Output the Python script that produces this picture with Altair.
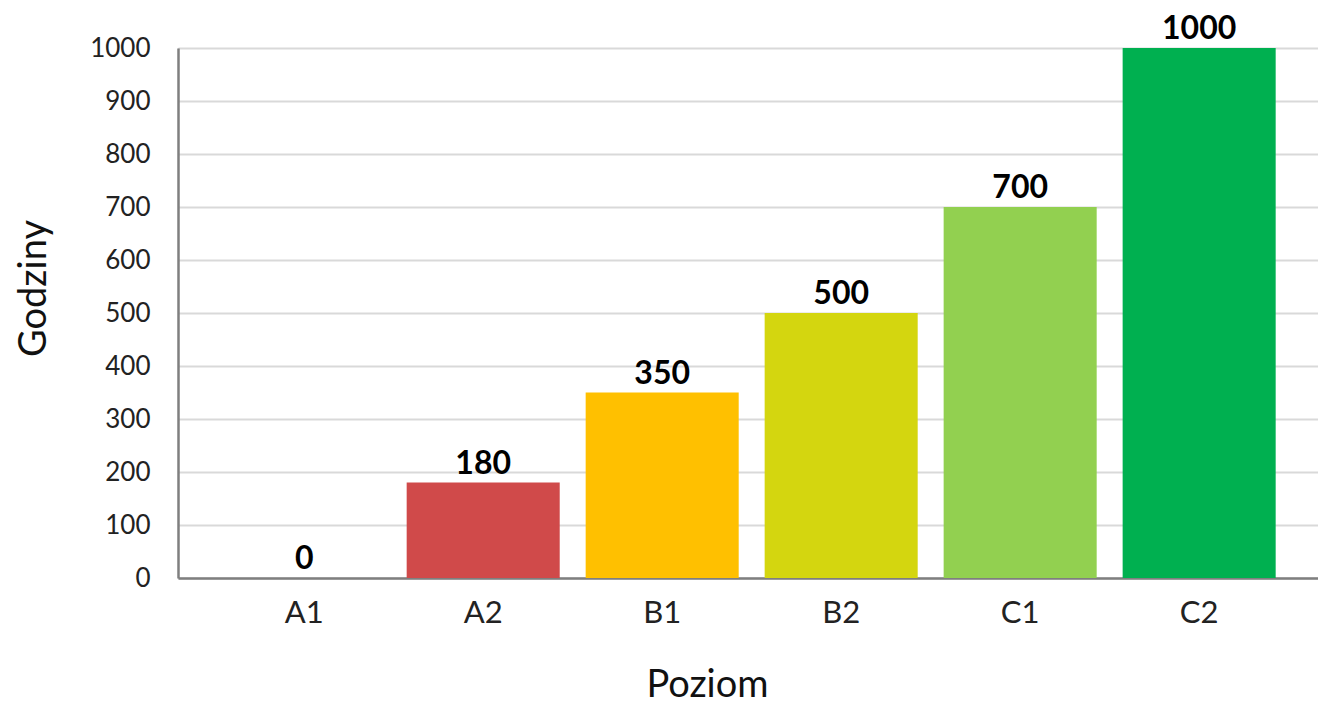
import altair as alt
import pandas as pd

levels = ["A1", "A2", "B1", "B2", "C1", "C2"]
hours = [0, 180, 350, 500, 700, 1000]
colors = ["#D04A4A", "#D04A4A", "#FFC000", "#D4D60F", "#92D050", "#00B050"]
y_ticks = list(range(0, 1001, 100))

df = pd.DataFrame({"Poziom": levels, "Godziny": hours})

FONT = "Lato"

x_enc = alt.X(
    "Poziom:N",
    sort=levels,
    scale=alt.Scale(paddingInner=0.145, paddingOuter=0.257, align=0.54),
    axis=alt.Axis(
        title="Poziom", labelAngle=0, labelFontSize=31, labelColor="#222222",
        labelPadding=20, ticks=False, domainColor="#7f7f7f", domainWidth=2.5,
        titleFontSize=38, titleFontWeight="normal", titleColor="#111111",
        titlePadding=38, titleX=529, titleAnchor="start", titleAlign="center",
        labelFont=FONT, titleFont=FONT,
    ),
)

bars = alt.Chart(df).mark_bar().encode(
    x=x_enc,
    y=alt.Y(
        "Godziny:Q",
        scale=alt.Scale(domain=[0, 1000], nice=False),
        axis=alt.Axis(
            title="Godziny", values=y_ticks, format="d", labelFontSize=26, labelColor="#222222",
            labelPadding=28, ticks=False, domainColor="#7f7f7f", domainWidth=2.5,
            gridColor="#d9d9d9", gridWidth=2,
            titleFontSize=38, titleFontWeight="normal", titleColor="#111111",
            titlePadding=36, titleY=240, titleAlign="center",
            labelFont=FONT, titleFont=FONT,
        ),
    ),
    color=alt.Color("Poziom:N", scale=alt.Scale(domain=levels, range=colors), legend=None),
)

labels = alt.Chart(df).mark_text(
    baseline="alphabetic", dy=-9, fontSize=32, fontWeight="bold", font=FONT, color="#000000"
).encode(
    x=alt.X("Poziom:N", sort=levels),
    y=alt.Y("Godziny:Q"),
    text=alt.Text("Godziny:Q", format="d"),
)

chart = alt.layer(bars, labels).properties(
    width=1140, height=530,
    autosize=alt.AutoSizeParams(type="none"),
    padding={"left": 178, "top": 48, "right": 0, "bottom": 126},
).configure_view(stroke=None).configure(background="white")

chart.save("out.html", embed_options={"renderer": "svg", "actions": False})
